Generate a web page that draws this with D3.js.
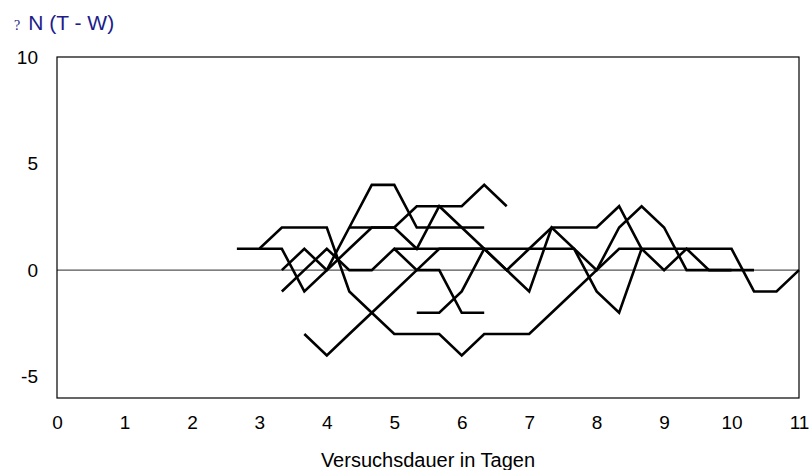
<!DOCTYPE html>
<html>
<head>
<meta charset="utf-8">
<script src="https://cdn.jsdelivr.net/npm/d3@7"></script>
<style>
  body { margin: 0; background: #fff; }
  svg text { font-family: "Liberation Sans", Arial, sans-serif; }
</style>
</head>
<body>
<div id="chart"></div>
<script>
// Abmessungen
var w = 812
var h = 470
var margin = {top: 57, right: 13, bottom: 72, left: 57}

// Achsen-Werte
var xTicks = [0, 1, 2, 3, 4, 5, 6, 7, 8, 9, 10, 11]
var yTicks = [-5, 0, 5, 10]
var schritt = 1 / 3   // Messintervall: alle 8 Stunden

// Beginn jeder Reihe (in Messintervallen ab Versuchsbeginn)
var beginn = [8, 9, 10, 10, 11, 13, 15, 16]

// Differenz N (T - W) je Messung
var reihe1 = [1, 1, 2, 2, 2, -1, -2, -3, -3, -3, -4, -3, -3, -3, -2, -1, 0, 1, 1, 1, 1, 1, 1, -1, -1, 0]
var reihe2 = [1, 1, -1, 0, 2, 4, 4, 2, 2, 2, 2]
var reihe3 = [0, 1, 0, 1, 2, 2, 3, 3, 3, 4, 3]
var reihe4 = [-1, 0, 1, 0, 0, 1, 0, 0, -2, -2]
var reihe5 = [-3, -4, -3, -2, -1, 0, 1, 1, 1, 0, 1, 2, 2, 2, 3, 1]
var reihe6 = [2, 2, 2, 1, 3, 2, 1, 0, -1, 2, 1, -1, -2, 1, 0, 1, 0, 0]
var reihe7 = [1, 1, 1, 1, 1, 1, 1, 1, 1, 0, 2, 3, 2, 0, 0, 0, 0]
var reihe8 = [-2, -2, -1, 1]
var reihen = [reihe1, reihe2, reihe3, reihe4, reihe5, reihe6, reihe7, reihe8]

var svg = d3.select('#chart')
    .append('svg')
    .attr('width', w)
    .attr('height', h)

// Skalen
var scaleX = d3.scaleLinear()
    .domain([0, 11])
    .range([margin.left, w - margin.right])

var scaleY = d3.scaleLinear()
    .domain([-6, 10])
    .range([h - margin.bottom, margin.top])

// Titel der y-Achse (das Delta wird als ? dargestellt)
var titel = svg.append('text')
    .attr('x', 14)
    .attr('y', 30)
    .attr('fill', '#1c1c8a')
titel.append('tspan')
    .style('font-family', '"Liberation Serif", serif')
    .attr('font-size', '14px')
    .text('?')
titel.append('tspan')
    .attr('font-size', '21px')
    .attr('dx', 8)
    .text('N (T - W)')

// Nulllinie
svg.append('line')
    .attr('x1', scaleX(0))
    .attr('x2', scaleX(11))
    .attr('y1', scaleY(0))
    .attr('y2', scaleY(0))
    .attr('stroke', '#555')
    .attr('stroke-width', 1.3)

// Achsen ohne Striche, nur Beschriftung
var xaxis = d3.axisBottom(scaleX).tickValues(xTicks).tickSize(0).tickPadding(18)
    .tickFormat((d) => String(d))
var yaxis = d3.axisLeft(scaleY).tickValues(yTicks).tickSize(0).tickPadding(19)
    .tickFormat((d) => String(d))

var gx = svg.append('g')
    .attr('transform', 'translate(0,' + scaleY(-6) + ')')
    .call(xaxis)
var gy = svg.append('g')
    .attr('transform', 'translate(' + scaleX(0) + ',0)')
    .call(yaxis)
svg.selectAll('.domain').remove()
svg.selectAll('.tick text')
    .attr('font-size', '19px')
    .attr('font-family', '"Liberation Sans", Arial, sans-serif')
    .attr('fill', '#000')

// Rahmen
svg.append('rect')
    .attr('x', scaleX(0))
    .attr('y', scaleY(10))
    .attr('width', scaleX(11) - scaleX(0))
    .attr('height', scaleY(-6) - scaleY(10))
    .attr('fill', 'none')
    .attr('stroke', '#000')
    .attr('stroke-width', 1.2)

// Linien
var linie = d3.line()
    .x((d) => scaleX(d.k * schritt))
    .y((d) => scaleY(d.v))

svg.append('g')
    .selectAll('path')
    .data(reihen.map((r, i) => r.map((v, j) => ({k: beginn[i] + j, v: v}))))
    .enter()
    .append('path')
    .attr('d', linie)
    .attr('fill', 'none')
    .attr('stroke', '#000')
    .attr('stroke-width', 2.6)
    .attr('stroke-linejoin', 'miter')

// Titel der x-Achse
svg.append('text')
    .attr('x', (scaleX(0) + scaleX(11)) / 2)
    .attr('y', 467)
    .attr('text-anchor', 'middle')
    .attr('font-size', '20px')
    .attr('fill', '#000')
    .text('Versuchsdauer in Tagen')
</script>
</body>
</html>
